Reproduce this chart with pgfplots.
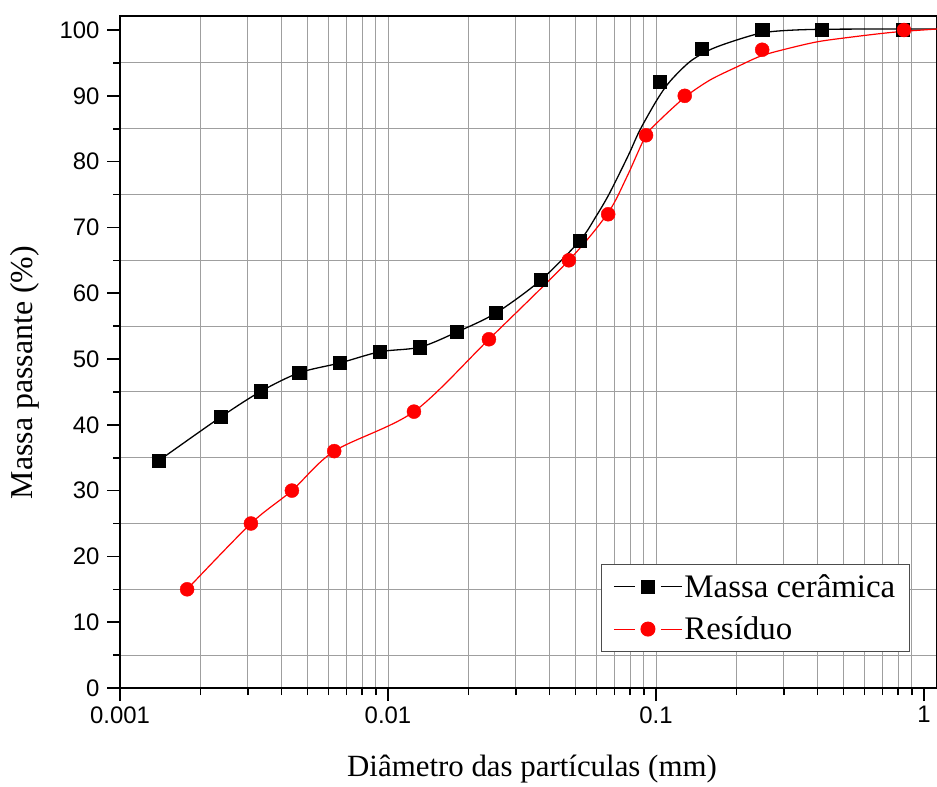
\documentclass[border=0pt]{standalone}
\usepackage{fontspec}
\setmainfont{Liberation Serif}
\setsansfont{Liberation Sans}
\usepackage{pgfplots}
\usepackage{pgfplotstable}
\pgfplotsset{compat=1.18}

% measured points
\pgfplotstableread{
d       m
0.00139 34.5
0.00238 41.2
0.00336 45.1
0.00466 47.9
0.00662 49.4
0.00933 51.1
0.01316 51.8
0.01808 54.1
0.0253  57.0
0.0372  62.0
0.0520  68.0
0.1035  92.1
0.1485  97.1
0.249   100.0
0.416   100.0
0.835   100.0
}\ceramica
\pgfplotstableread{
d       m
0.00178 15.0
0.00308 25.0
0.00438 30.0
0.0063  36.0
0.0125  42.0
0.0238  53.0
0.0473  65.0
0.0663  72.0
0.0918  84.0
0.128   90.0
0.249   97.0
0.842   100.0
}\residuo
% fitted curves
\pgfplotstableread{
d       m
0.00139 34.5
0.00238 41.2
0.00336 45.1
0.00466 47.9
0.00662 49.4
0.00933 51.1
0.01316 51.8
0.01808 54.1
0.0253  57.0
0.0372  62.0
0.0520  68.0
0.0600  71.8
0.0663  74.8
0.0733  78.3
0.0800  81.5
0.0871  84.8
0.1009  89.4
0.1128  92.2
0.1339  95.2
0.1591  97.0
0.1938  98.3
0.2444  99.5
0.2978  99.9
0.3988  100.1
0.685   100.15
1.118   100.15
}\ceramicafit
\pgfplotstableread{
d       m
0.00178 15.0
0.00308 25.0
0.00438 30.0
0.0063  36.0
0.0125  42.0
0.0238  53.0
0.0473  65.0
0.0662  72.2
0.0779  77.7
0.0910  83.7
0.1009  85.9
0.1283  89.8
0.1591  92.4
0.2005  94.4
0.2444  96.0
0.2978  97.0
0.3988  98.2
0.5296  98.9
0.703   99.5
0.842   99.8
1.118   100.15
}\residuofit

\begin{document}
\begin{tikzpicture}
\begin{axis}[
  name=ax,
  scale only axis,
  width=817bp, height=672bp,
  xmode=log,
  xmin=0.001, xmax=1.118,
  ymin=0, ymax=102.13,
  xtick={0.001,0.01,0.1,1},
  xticklabels={0.001,0.01,0.1,1},
  ytick={0,10,...,100},
  minor y tick num=1,
  grid=minor,
  minor grid style={gray!75, line width=0.9bp},
  tick align=outside,
  tick pos=left,
  major tick length=13bp,
  minor tick length=7bp,
  every tick/.style={black, line width=1.6bp},
  axis line style={line width=2.4bp},
  /pgf/number format/assume math mode=true,
  tick label style={font=\sffamily\fontsize{24}{24}\selectfont},
  xticklabel style={yshift=-2bp},
  yticklabel style={xshift=-4bp},
  xlabel={Diâmetro das partículas (mm)},
  ylabel={Massa passante (\%)},
  every axis x label/.style={at={(axis description cs:0.5043,-0.1324)}, anchor=base,
    font=\fontsize{31}{36}\selectfont},
  every axis y label/.style={at={(axis description cs:-0.1065,0.4695)}, anchor=base, rotate=90,
    font=\fontsize{32}{36}\selectfont},
  legend image code/.code={
    \draw[#1, mark=none] (0bp,0bp) -- (21bp,0bp);
    \draw[#1, mark=none] (47bp,0bp) -- (68bp,0bp);
    \draw[#1] plot[only marks] coordinates {(34bp,0bp)};
  },
  legend style={
    at={(0.5887,0.1845)}, anchor=north west,
    draw=gray!60!black, line width=1bp,
    fill=white,
    font=\fontsize{33}{38}\selectfont,
    inner xsep=12bp, inner ysep=9bp,
    row sep=16bp,
    /tikz/every even column/.style={column sep=0bp},
    nodes={inner xsep=2bp, inner ysep=1bp},
  },
  legend cell align=left,
]
\addplot[black, line width=1.3bp, smooth, tension=0.5, forget plot] table[x=d, y=m] {\ceramicafit};
\addplot[only marks, mark=square*, mark size=6.6bp, black, forget plot] table[x=d, y=m] {\ceramica};
\addplot[red, line width=1.2bp, smooth, tension=0.5, forget plot] table[x=d, y=m] {\residuofit};
\addplot[only marks, mark=*, mark size=7bp, red, mark options={fill=red, draw=red}, forget plot] table[x=d, y=m] {\residuo};

\addlegendimage{black, line width=1bp, mark=square*, mark size=6.6bp, mark options={solid}}
\addlegendentry{Massa cerâmica}
\addlegendimage{red, line width=1bp, mark=*, mark size=7bp, mark options={fill=red}}
\addlegendentry{Resíduo}
\end{axis}
\pgfresetboundingbox
\path ([xshift=-120bp,yshift=-99bp]ax.south west) rectangle ([yshift=16bp]ax.north east);
\end{tikzpicture}
\end{document}
